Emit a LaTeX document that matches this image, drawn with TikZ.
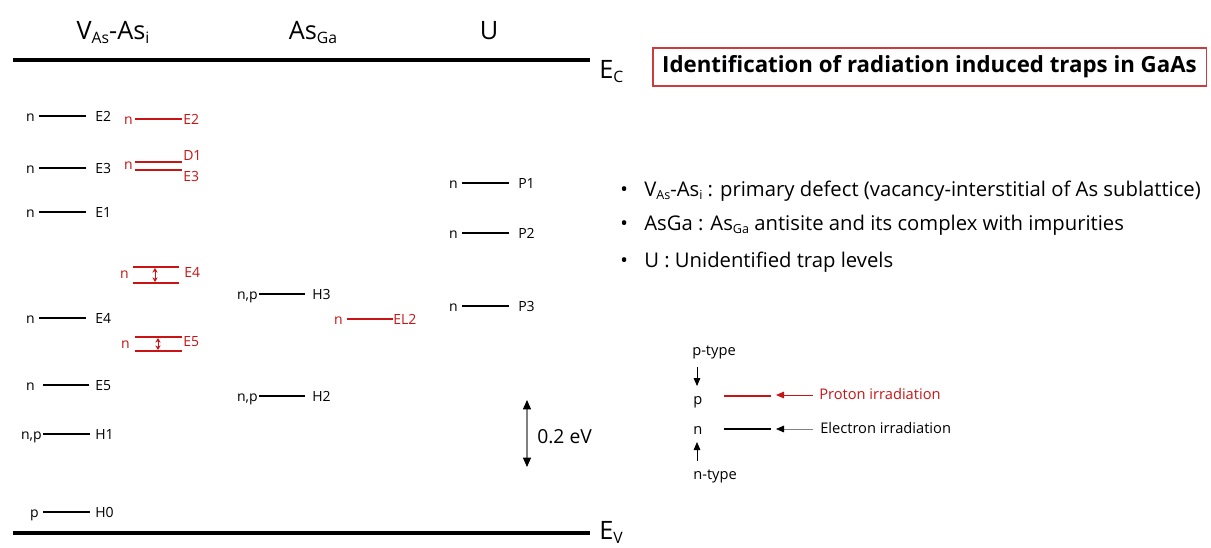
\documentclass[tikz,border=0pt]{standalone}
\usepackage{fontspec}
\setmainfont{Open Sans}
\usetikzlibrary{arrows.meta}
\definecolor{tred}{RGB}{200,20,20}
\definecolor{boxred}{RGB}{205,60,60}
\newcommand\lsub[1]{\raisebox{-0.35ex}{\scalebox{0.62}{#1}}}
% #1 name, #2 x1, #3 x2, #4 y, #5 left text, #6 right text, #7 colour, #8 left gap, #9 right gap
\newcommand\lvl[9]{%
  \draw[levline,#7] (#2,#4) coordinate (#1a) -- (#3,#4) coordinate (#1b);
  \node[lbl,text=#7,anchor=base east] (#1L) at ({#2-#8},{#4+5}) {#5};
  \node[lbl,text=#7,anchor=base west] (#1R) at ({#3+#9},{#4+5}) {#6};
}
\begin{document}
\begin{tikzpicture}[x=0.75pt,y=-0.75pt,
  lbl/.style={inner sep=0pt,font=\fontsize{10.5}{12}\selectfont},
  levline/.style={line width=1.5pt},
  band/.style={line width=3pt,black},
  head/.style={inner sep=0pt,font=\fontsize{19}{22}\selectfont},
  bul/.style={inner sep=0pt,font=\fontsize{15.2}{18}\selectfont},
  leg/.style={inner sep=0pt,font=\fontsize{11}{13}\selectfont},
  dbl/.style={tred,line width=0.7pt,{Stealth[length=3.5pt,width=4pt]}-{Stealth[length=3.5pt,width=4pt]}},
]
\useasboundingbox (0,0) rectangle (1211,547);
% headers
\node[head,anchor=base] (hV) at (113,39) {V\lsub{As}-As\lsub{i}};
\node[head,anchor=base] (hA) at (313,39) {As\lsub{Ga}};
\node[head,anchor=base] (hU) at (489,39) {U};
% bands
\coordinate (ec1) at (13,60); \coordinate (ec2) at (590,60);
\coordinate (ev1) at (13,533); \coordinate (ev2) at (590,533);
\draw[band] (ec1) -- (ec2);
\draw[band] (ev1) -- (ev2);
\node[head,anchor=base west] (EC) at (599,78) {E\lsub{C}};
\node[head,anchor=base west] (EV) at (599,539) {E\lsub{V}};
% V_As-As_i black levels
\lvl{bE2}{39}{86}{116}{n}{E2}{black}{4}{9}
\lvl{bE3}{39}{86}{168}{n}{E3}{black}{4}{9}
\lvl{bE1}{39}{86}{212}{n}{E1}{black}{4}{9}
\lvl{bE4}{39}{86}{318}{n}{E4}{black}{4}{9}
\lvl{bE5}{43}{89}{385}{n}{E5}{black}{8}{6}
\lvl{bH1}{43}{90}{434}{n,p}{H1}{black}{1}{5}
\lvl{bH0}{43}{90}{512}{p}{H0}{black}{4}{5}
% V_As-As_i red levels
\lvl{rE2}{135}{182}{119}{n}{E2}{tred}{2}{1}
\draw[levline,tred] (135,162) coordinate (rD1a) -- (182,162) coordinate (rD1b);
\draw[levline,tred] (135,170) coordinate (rE3a) -- (182,170) coordinate (rE3b);
\node[lbl,text=tred,anchor=base east] (rD1L) at (133,169) {n};
\node[lbl,text=tred,anchor=base west] (rD1R) at (183,160) {D1};
\node[lbl,text=tred,anchor=base west] (rE3R) at (183,181) {E3};
% E4 red pair
\draw[levline,tred] (133,267) coordinate (rE4a) -- (179,267) coordinate (rE4b);
\draw[levline,tred] (133,283) coordinate (rE4c) -- (179,283) coordinate (rE4d);
\coordinate (rE4t) at (155,268); \coordinate (rE4u) at (155,282);
\draw[dbl] (rE4t) -- (rE4u);
\node[lbl,text=tred,anchor=base east] (rE4L) at (129,278) {n};
\node[lbl,text=tred,anchor=base west] (rE4R) at (184,277) {E4};
% E5 red pair
\draw[levline,tred] (135,337) coordinate (rE5a) -- (182,337) coordinate (rE5b);
\draw[levline,tred] (135,351) coordinate (rE5c) -- (182,351) coordinate (rE5d);
\coordinate (rE5t) at (158,338); \coordinate (rE5u) at (158,350);
\draw[dbl] (rE5t) -- (rE5u);
\node[lbl,text=tred,anchor=base east] (rE5L) at (130,348) {n};
\node[lbl,text=tred,anchor=base west] (rE5R) at (183,346) {E5};
% As_Ga levels
\lvl{H3}{259}{305}{294}{n,p}{H3}{black}{1}{7}
\lvl{EL2}{347}{393}{319}{n}{EL2}{tred}{4}{0}
\lvl{H2}{259}{305}{396}{n,p}{H2}{black}{1}{7}
% U levels
\lvl{P1}{462}{509}{183}{n}{P1}{black}{4}{9}
\lvl{P2}{462}{509}{233}{n}{P2}{black}{4}{9}
\lvl{P3}{462}{509}{306}{n}{P3}{black}{4}{9}
% 0.2 eV scale
\coordinate (sT) at (527,400); \coordinate (sB) at (527,467);
\draw[gray,line width=0.8pt,{Triangle[length=7pt,width=6pt,color=black]}-{Triangle[length=7pt,width=6pt,color=black]}] (sT) -- (sB);
\node[inner sep=0pt,anchor=base west,font=\fontsize{14.5}{17}\selectfont] (sL) at (537,443) {0.2 eV};
% title
\node[draw=boxred,line width=1pt,minimum width=415pt,minimum height=28.5pt,inner sep=0pt,
      font=\fontsize{16.7}{19}\bfseries\selectfont] (title) at (929.5,67) {Identification of radiation induced traps in GaAs};
% bullets
\node[bul,anchor=base west] (b1d) at (620,196) {•};
\node[bul,anchor=base west] (b1) at (644,196) {V\lsub{As}-As\lsub{i} : primary defect (vacancy-interstitial of As sublattice)};
\node[bul,anchor=base west] (b2d) at (620,230) {•};
\node[bul,anchor=base west] (b2) at (644,230) {AsGa : As\lsub{Ga} antisite and its complex with impurities};
\node[bul,anchor=base west] (b3d) at (620,267) {•};
\node[bul,anchor=base west] (b3) at (644,267) {U : Unidentified trap levels};
% legend
\node[leg,anchor=base west] (ptype) at (692,355) {p-type};
\node[leg,anchor=base west] (lp) at (693,404) {p};
\node[leg,anchor=base west] (ln) at (693,434) {n};
\node[leg,anchor=base west] (ntype) at (693,479) {n-type};
\coordinate (dA) at (697,367); \coordinate (dB) at (697,386);
\draw[black,line width=0.6pt,-{Triangle[length=6pt,width=5pt]}] (dA) -- (dB);
\coordinate (uA) at (697,461); \coordinate (uB) at (697,442);
\draw[black,line width=0.6pt,-{Triangle[length=6pt,width=5pt]}] (uA) -- (uB);
\draw[levline,tred] (724,396) coordinate (lr1) -- (771,396) coordinate (lr2);
\draw[levline,black] (724,429) coordinate (lb1) -- (771,429) coordinate (lb2);
\node[leg,anchor=base west,text=tred] (lprot) at (819,399) {Proton irradiation};
\node[leg,anchor=base west] (lelec) at (820,433) {Electron irradiation};
\coordinate (ra) at (813,395); \coordinate (rb) at (776,395);
\draw[tred,line width=0.6pt,-{Triangle[length=6pt,width=5pt]}] (ra) -- (rb);
\coordinate (ea) at (813,429); \coordinate (eb) at (776,429);
\draw[gray,line width=0.6pt,-{Triangle[length=6pt,width=5pt,color=black]}] (ea) -- (eb);
\end{tikzpicture}
\end{document}
